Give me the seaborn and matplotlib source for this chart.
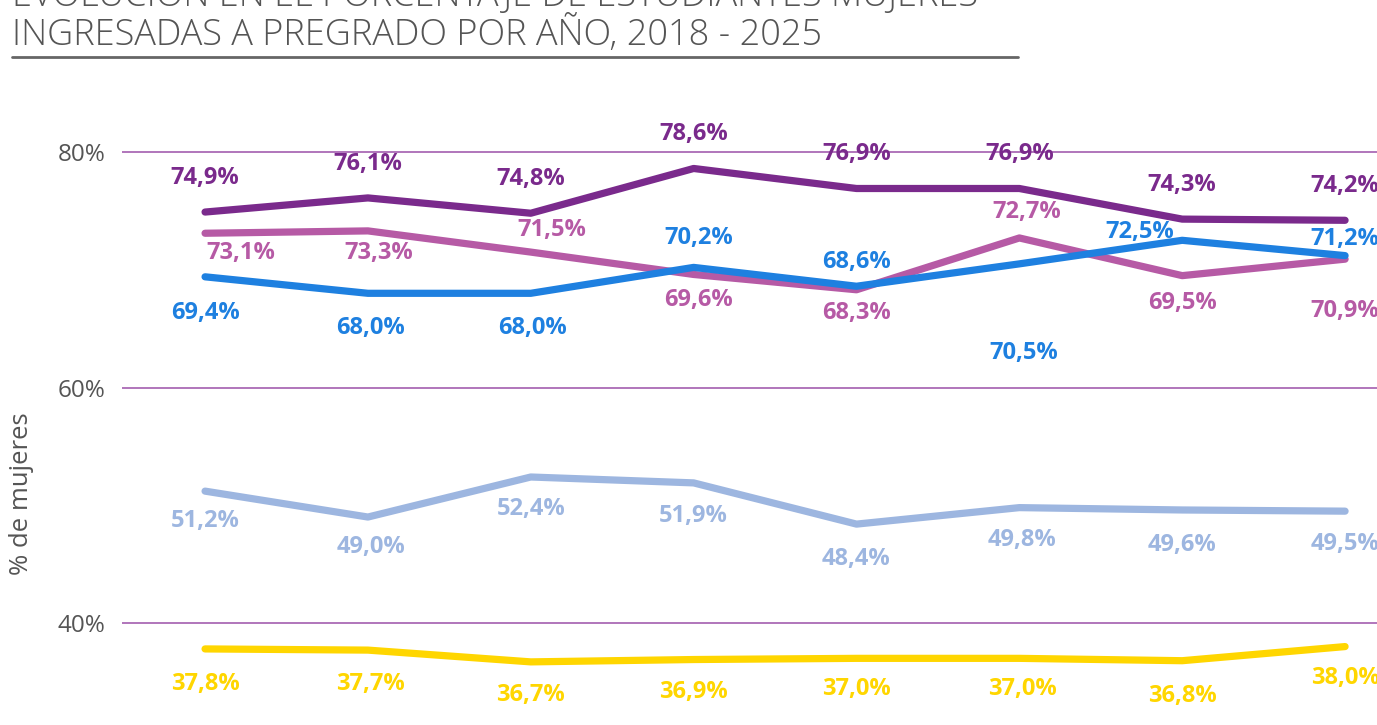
import pandas as pd
import numpy as np
import matplotlib.pyplot as plt
import seaborn as sns
from matplotlib.lines import Line2D

# Data
years = [2018, 2019, 2020, 2021, 2022, 2023, 2024, 2025]
serie_morada = [74.9, 76.1, 74.8, 78.6, 76.9, 76.9, 74.3, 74.2]
serie_rosa = [73.1, 73.3, 71.5, 69.6, 68.3, 72.7, 69.5, 70.9]
serie_azul = [69.4, 68.0, 68.0, 70.2, 68.6, 70.5, 72.5, 71.2]
serie_celeste = [51.2, 49.0, 52.4, 51.9, 48.4, 49.8, 49.6, 49.5]
serie_amarilla = [37.8, 37.7, 36.7, 36.9, 37.0, 37.0, 36.8, 38.0]

series = {
    "Serie amarilla": serie_amarilla,
    "Serie celeste": serie_celeste,
    "Serie rosa": serie_rosa,
    "Serie azul": serie_azul,
    "Serie morada": serie_morada,
}
colors = {
    "Serie amarilla": "#FFD600",
    "Serie celeste": "#9DB6E0",
    "Serie rosa": "#B65AA5",
    "Serie azul": "#1E80E0",
    "Serie morada": "#7A2A8C",
}

# label offsets in pixels (dx, dy), negative dy = below the line
label_offsets = {
    "Serie morada": [(0, 34)] * 8,
    "Serie rosa": [(36, -20), (11, -22), (21, 22), (5, -26), (0, -23), (7, 26), (0, -27), (0, -52)],
    "Serie azul": [(0, -36), (3, -35), (2, -35), (5, 29), (0, 24), (4, -89), (-42, 8), (0, 17)],
    "Serie celeste": [(0, -30), (3, -30), (0, -32), (0, -33), (0, -35), (3, -32), (0, -35), (0, -33)],
    "Serie amarilla": [(0, -35), (3, -34), (0, -33), (0, -32), (0, -31), (3, -31), (0, -35), (0, -31)],
}

rows = []
for name, vals in series.items():
    for y, v in zip(years, vals):
        rows.append({"anio": y, "pct": v, "serie": name})
df = pd.DataFrame(rows)

sns.set_theme(style="white")
plt.rcParams["font.family"] = ["Open Sans", "DejaVu Sans"]

W, H = 1377, 725
fig = plt.figure(figsize=(W / 100, H / 100), dpi=100)
ax = fig.add_axes([122 / W, 0, 1 - 122 / W, (H - 95) / H])

sns.lineplot(data=df, x="anio", y="pct", hue="serie", palette=colors,
             linewidth=5.2, legend=False, ax=ax, solid_capstyle="round")

for name, vals in series.items():
    for y, v, (dx, dy) in zip(years, vals, label_offsets[name]):
        ax.annotate(f"{v:.1f}%".replace(".", ","), (y, v), xytext=(dx, dy),
                    textcoords="offset pixels", ha="center", va="center",
                    fontsize=17, fontweight="bold", color=colors[name],
                    annotation_clip=False)

ax.set_xlim(2017.49, 2025.196)
ax.set_ylim(31.34, 84.84)
ax.set_yticks([40, 60, 80])
ax.set_yticklabels(["40%", "60%", "80%"], fontsize=17.5, color="#555555")
ax.set_xticks([])
ax.tick_params(axis="y", length=0, pad=12)
for yv in [40, 60, 80]:
    ax.axhline(yv, color="#9B50A8", linewidth=1.1, zorder=0)
for s in ax.spines.values():
    s.set_visible(False)
ax.set_xlabel("")
ax.set_ylabel("")
fig.text(22 / W, 1 - 494 / H, "% de mujeres", rotation=90, ha="center", va="center",
         fontsize=18.5, color="#555555")

# title (first line partly cut off at the top, as in the reference)
fig.text(12 / W, 1 - 6 / H, "EVOLUCIÓN EN EL PORCENTAJE DE ESTUDIANTES MUJERES",
         fontsize=26, color="#555555", fontweight="light", va="baseline")
fig.text(12 / W, 1 - 45 / H, "INGRESADAS A PREGRADO POR AÑO, 2018 - 2025",
         fontsize=26, color="#555555", fontweight="light", va="baseline")
fig.add_artist(Line2D([12 / W, 1018 / W], [1 - 57 / H, 1 - 57 / H],
                      color="#666666", linewidth=2, transform=fig.transFigure))

plt.savefig("out.png", dpi=100)
